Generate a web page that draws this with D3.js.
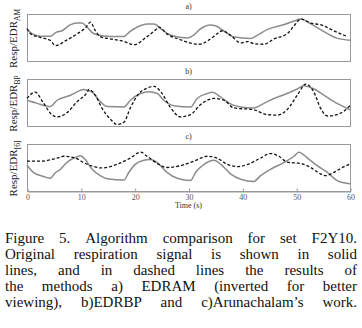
<!DOCTYPE html>
<html>
<head>
<meta charset="utf-8">
<script src="https://d3js.org/d3.v7.min.js"></script>
<style>
  body { margin: 0; background: #fff; }
  svg { display: block; }
</style>
</head>
<body>
<svg width="362" height="328"></svg>
<script>
// ---- data (time in s, amplitude normalised to the panel box) ----
const panelTitles = ["a)", "b)", "c)"];
const panelSubs = ["AM", "BP", "[6]"];
const xTicks = [0, 10, 20, 30, 40, 50, 60];

const respA = [[0,.68],[1,.58],[2.5,.53],[4.4,.53],[5.3,.61],[6.5,.65],[8,.78],[9.3,.82],[10.2,.82],[11,.75],[12,.62],[13,.56],[15.5,.52],[18,.52],[19,.62],[21,.76],[22.3,.80],[23.6,.80],[25,.68],[26.7,.55],[29.8,.49],[30.7,.53],[32.3,.70],[34,.78],[35,.76],[36.5,.65],[38.5,.51],[41.6,.48],[42.5,.53],[44.7,.68],[47.8,.79],[49.5,.86],[50.9,.91],[52.5,.82],[54.6,.67],[57.7,.48],[60,.44]];
const edrA = [[0,.70],[0.6,.59],[2.5,.50],[4.3,.44],[5.3,.32],[7.2,.43],[9.3,.58],[10.9,.72],[11.8,.84],[12.7,.65],[13.6,.52],[15,.48],[17,.44],[18,.41],[19.9,.34],[22.3,.52],[24.2,.70],[24.5,.73],[26,.58],[28.5,.45],[31,.36],[32,.35],[34.1,.47],[35.4,.59],[36.3,.65],[37.8,.55],[39.7,.38],[41,.41],[42.2,.36],[44,.35],[45.9,.47],[48.4,.59],[49.6,.76],[50.9,.91],[52.7,.82],[54.6,.78],[57,.65],[58.9,.55],[59.6,.52]];

const respB = [[0,.55],[1.9,.48],[4.3,.41],[5.6,.55],[8.1,.66],[9.9,.77],[10.5,.79],[12.1,.73],[13.6,.52],[14.9,.41],[18,.40],[19.2,.55],[21.1,.70],[22.6,.74],[24.2,.70],[25.4,.55],[27.3,.43],[30.4,.40],[31.6,.59],[33.5,.70],[34.4,.73],[36,.62],[37.6,.48],[39.7,.40],[42.1,.38],[44,.48],[45.9,.59],[48.3,.70],[50.2,.80],[51.4,.87],[53.3,.80],[55.2,.66],[57.6,.48],[60,.34]];
const edrB = [[0,.59],[1.5,.73],[3.1,.48],[4.6,.23],[5.6,.18],[7.4,.27],[9.3,.52],[11.2,.73],[11.5,.79],[12.7,.66],[13.9,.38],[15.5,.13],[16.7,.01],[18,.06],[19.2,.38],[20.8,.70],[22.3,.82],[23.6,.86],[24.9,.73],[26.7,.38],[28.5,.18],[30.4,.23],[32.2,.45],[34.7,.59],[36.6,.55],[38.4,.38],[42.1,.34],[44.6,.23],[46.5,.22],[48.3,.34],[50.2,.66],[51.8,.91],[53.3,.73],[54.5,.38],[55.8,.20],[57.6,.23],[59.2,.34],[60,.43]];

const respC = [[0,.55],[1.2,.39],[3.1,.30],[4.3,.26],[5.3,.39],[6.2,.46],[7.4,.61],[9.3,.74],[9.9,.76],[10.8,.68],[12.1,.46],[13.6,.32],[14.9,.25],[18,.22],[18.9,.39],[20.1,.57],[21.7,.66],[22.9,.68],[24.2,.61],[26,.39],[27.9,.26],[30.4,.21],[31.3,.39],[32.9,.57],[34.7,.66],[36,.57],[37.8,.36],[39.7,.24],[42.1,.19],[43.4,.32],[45.2,.46],[47.7,.61],[49.6,.75],[50.5,.84],[52.1,.71],[53.9,.54],[55.8,.39],[57.6,.21],[58.9,.16],[60,.14]];
const edrC = [[0,.64],[2.5,.64],[5.6,.71],[6.8,.75],[9,.71],[10.5,.61],[12.4,.52],[13.9,.49],[16.7,.57],[19.2,.71],[21.1,.84],[22.3,.75],[24.2,.59],[26,.50],[28.5,.54],[31,.64],[33.5,.75],[35.3,.71],[37.2,.57],[39.1,.52],[41,.57],[43.4,.71],[45.2,.81],[46.8,.75],[48.3,.62],[50.8,.59],[52.7,.50],[54.5,.36],[55.5,.32],[57,.39],[58.6,.50],[60,.58]];

const captionLines = [
  "Figure 5. Algorithm comparison for set F2Y10.",
  "Original respiration signal is shown in solid",
  "lines, and in dashed lines the results of",
  "the methods a) EDRAM (inverted for better",
  "viewing), b)EDRBP and c)Arunachalam\u2019s work."
];

const panels = [
  {resp: respA, edr: edrA},
  {resp: respB, edr: edrB},
  {resp: respC, edr: edrC}
];

const serif = "'Liberation Serif', 'DejaVu Serif', serif";

// ---- layout ----
const left = 27, right = 350, boxH = 47;
const tops = [14, 79, 144];

const svg = d3.select("svg");
const x = d3.scaleLinear().domain([0, 60]).range([left, right]);

panels.forEach((p, i) => {
  const top = tops[i];
  const y = d3.scaleLinear().domain([0, 1]).range([top + boxH - 1, top + 1]);
  const line = d3.line().x(d => x(d[0])).y(d => y(d[1])).curve(d3.curveMonotoneX);

  const g = svg.append("g");

  g.append("rect")
    .attr("x", left + 0.5).attr("y", top + 0.5)
    .attr("width", right - left).attr("height", boxH)
    .attr("fill", "none").attr("stroke", "#999").attr("stroke-width", 1);

  g.append("path").datum(p.resp)
    .attr("d", line).attr("fill", "none")
    .attr("stroke", "#8c8c8c").attr("stroke-width", 1.5);

  g.append("path").datum(p.edr)
    .attr("d", line).attr("fill", "none")
    .attr("stroke", "#111").attr("stroke-width", 1.3)
    .attr("stroke-dasharray", "3,2");

  // panel title
  g.append("text")
    .attr("x", (left + right) / 2).attr("y", top - 5)
    .attr("text-anchor", "middle")
    .style("font-family", serif).style("font-size", "8px").attr("fill", "#333")
    .text(panelTitles[i]);

  // y label
  const cy = top + boxH / 2 + 1;
  const lab = g.append("text")
    .attr("transform", `translate(17,${cy}) rotate(-90)`)
    .attr("text-anchor", "middle")
    .style("font-family", serif).style("font-size", "11px").attr("fill", "#222");
  lab.append("tspan").text("Resp/EDR");
  lab.append("tspan").attr("dy", 3).style("font-size", "7.5px").text(panelSubs[i]);
});

// x axis on bottom panel
const axisY = tops[2] + boxH + 0.5;
const xAxis = svg.append("g")
  .attr("transform", `translate(0.5,${axisY})`)
  .call(d3.axisBottom(x).tickValues(xTicks).tickSizeInner(-3).tickSizeOuter(0).tickPadding(3));
xAxis.select(".domain").attr("stroke", "#999");
xAxis.selectAll(".tick line").attr("stroke", "#999");
xAxis.selectAll(".tick text")
  .style("font-family", serif).style("font-size", "8px").attr("fill", "#555");

svg.append("text")
  .attr("x", (left + right) / 2).attr("y", 208)
  .attr("text-anchor", "middle")
  .style("font-family", serif).style("font-size", "8px").attr("fill", "#333")
  .text("Time (s)");

// caption, justified
const capLeft = 5, capRight = 357, capTop = 243, capStep = 16;
captionLines.forEach((ln, i) => {
  const words = ln.split(" ");
  const ty = capTop + i * capStep;
  const nodes = words.map(w => svg.append("text")
    .attr("y", ty)
    .style("font-family", serif).style("font-size", "15px").attr("fill", "#111")
    .text(w));
  const widths = nodes.map(n => n.node().getComputedTextLength());
  const total = d3.sum(widths);
  const gap = (capRight - capLeft - total) / (words.length - 1);
  let cx = capLeft;
  nodes.forEach((n, k) => { n.attr("x", cx); cx += widths[k] + gap; });
});
</script>
</body>
</html>
